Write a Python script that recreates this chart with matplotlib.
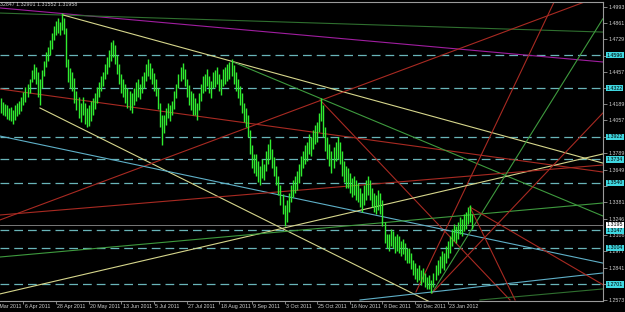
import matplotlib
matplotlib.use("Agg")
import matplotlib.pyplot as plt
import matplotlib.transforms as mtransforms
from matplotlib import font_manager
import numpy as np

# ---------------- data ----------------
highs = [
    1.424,1.421,1.419,1.418,1.416, 1.417,1.414,1.418,1.420,1.422,
    1.425,1.429,1.433,1.436,1.440, 1.447,1.452,1.450,1.446,1.440,
    1.447,1.455,1.462,1.466,1.472, 1.478,1.484,1.488,1.490,1.487,
    1.494,1.490,1.482,1.456,1.449, 1.446,1.441,1.430,1.425,1.420,
    1.425,1.420,1.416,1.418,1.422, 1.424,1.428,1.433,1.437,1.442,
    1.446,1.452,1.458,1.464,1.470, 1.472,1.468,1.460,1.452,1.444,
    1.440,1.436,1.432,1.430,1.428, 1.432,1.437,1.440,1.436,1.442,
    1.446,1.452,1.456,1.453,1.449, 1.445,1.440,1.432,1.420,1.410,
    1.410,1.416,1.420,1.418,1.422, 1.430,1.436,1.444,1.450,1.453,
    1.448,1.440,1.435,1.430,1.428, 1.424,1.420,1.428,1.436,1.442,
    1.444,1.448,1.442,1.438,1.446, 1.447,1.450,1.444,1.440,1.448,
    1.450,1.452,1.454,1.456,1.451, 1.446,1.440,1.434,1.428,1.420,
    1.416,1.410,1.398,1.385,1.378, 1.378,1.372,1.368,1.374,1.370,
    1.380,1.386,1.390,1.382,1.375, 1.368,1.360,1.352,1.345,1.336,
    1.340,1.346,1.352,1.356,1.360, 1.364,1.370,1.376,1.380,1.385,
    1.388,1.394,1.392,1.398,1.402, 1.404,1.412,1.424,1.418,1.400,
    1.392,1.386,1.380,1.384,1.388, 1.392,1.388,1.380,1.372,1.368,
    1.366,1.362,1.358,1.360,1.356, 1.354,1.350,1.346,1.352,1.356,
    1.360,1.356,1.350,1.346,1.344, 1.348,1.346,1.340,1.322,1.312,
    1.312,1.316,1.314,1.310,1.312, 1.310,1.306,1.308,1.304,1.300,
    1.300,1.296,1.290,1.288,1.284, 1.286,1.282,1.284,1.280,1.276,
    1.278,1.274,1.280,1.286,1.290, 1.294,1.298,1.296,1.302,1.306,
    1.310,1.316,1.320,1.318,1.322, 1.326,1.324,1.328,1.330,1.334,
    1.336,1.328,
]
lows = [
    1.412,1.410,1.409,1.407,1.406, 1.405,1.403,1.406,1.409,1.411,
    1.413,1.418,1.421,1.425,1.428, 1.437,1.440,1.436,1.425,1.418,
    1.432,1.442,1.450,1.455,1.460, 1.465,1.472,1.476,1.478,1.476,
    1.480,1.477,1.450,1.437,1.432, 1.430,1.420,1.414,1.408,1.404,
    1.410,1.403,1.400,1.401,1.405, 1.410,1.415,1.420,1.425,1.430,
    1.434,1.440,1.444,1.450,1.455, 1.458,1.452,1.444,1.436,1.428,
    1.425,1.420,1.416,1.414,1.412, 1.418,1.422,1.425,1.423,1.428,
    1.432,1.438,1.442,1.440,1.436, 1.430,1.426,1.415,1.400,1.385,
    1.395,1.402,1.408,1.405,1.410, 1.415,1.424,1.432,1.438,1.440,
    1.434,1.425,1.418,1.414,1.410, 1.410,1.406,1.414,1.422,1.428,
    1.430,1.434,1.428,1.424,1.432, 1.433,1.436,1.430,1.427,1.434,
    1.436,1.438,1.440,1.442,1.436, 1.430,1.424,1.418,1.412,1.404,
    1.400,1.392,1.378,1.366,1.362, 1.360,1.355,1.352,1.358,1.356,
    1.364,1.370,1.374,1.366,1.360, 1.352,1.344,1.336,1.328,1.318,
    1.322,1.330,1.338,1.342,1.346, 1.348,1.354,1.360,1.366,1.370,
    1.372,1.378,1.376,1.382,1.386, 1.388,1.396,1.405,1.392,1.380,
    1.374,1.368,1.362,1.366,1.372, 1.374,1.370,1.360,1.355,1.350,
    1.350,1.346,1.342,1.344,1.340, 1.338,1.334,1.330,1.336,1.340,
    1.344,1.340,1.334,1.330,1.328, 1.332,1.328,1.318,1.304,1.300,
    1.298,1.302,1.300,1.296,1.298, 1.296,1.294,1.295,1.290,1.288,
    1.288,1.283,1.278,1.275,1.272, 1.274,1.270,1.272,1.268,1.266,
    1.266,1.263,1.268,1.274,1.278, 1.280,1.284,1.282,1.288,1.292,
    1.296,1.302,1.306,1.304,1.308, 1.312,1.310,1.314,1.316,1.320,
    1.322,1.316,
]

# horizontal levels (dashed) and their labels
levels = [1.4596, 1.4322, 1.3922, 1.3734, 1.3540, 1.3147, 1.3004, 1.2701]
bid = 1.3195

# price axis tick labels
price_ticks = [1.4993, 1.4861, 1.4729, 1.4589, 1.4457, 1.4320, 1.4189, 1.4057,
               1.3920, 1.3789, 1.3649, 1.3517, 1.3381, 1.3246, 1.3108, 1.2977,
               1.2841, 1.2709, 1.2573]

# x tick labels (every 16 bars)
date_labels = ["15 Mar 2011", "6 Apr 2011", "28 Apr 2011", "20 May 2011", "13 Jun 2011",
               "5 Jul 2011", "27 Jul 2011", "18 Aug 2011", "9 Sep 2011", "3 Oct 2011",
               "25 Oct 2011", "16 Nov 2011", "8 Dec 2011", "30 Dec 2011", "23 Jan 2012"]

# trend lines: (bar0, price0, bar1, price1, colour)
trend_lines = [
    (-0.5, 1.4985, 295.0, 1.4539, "#a01ea0"),   # purple
    (-0.5, 1.4943, 295.0, 1.4786, "#2f6f2f"),   # dark green
    (30.4, 1.4927, 295.0, 1.3704, "#d6d68c"),   # khaki from top
    (19.1, 1.4159, 220.0, 1.2475, "#d6d68c"),   # khaki down
    (-0.5, 1.4316, 295.0, 1.3630, "#a82a22"),   # red falling
    (-0.5, 1.3234, 288.7, 1.5051, "#a82a22"),   # red rising
    (113.7, 1.4539, 295.0, 1.3267, "#3e9a3e"),  # green falling
    (156.4, 1.4225, 249.5, 1.2573, "#a82a22"),  # red from Oct peak
    (271.6, 1.5051, 203.4, 1.2639, "#a82a22"),  # red steep
    (-0.5, 1.3927, 295.0, 1.2878, "#5fb0c8"),   # cyan
    (-0.5, 1.2623, 295.0, 1.3779, "#d6d68c"),   # khaki rising
    (-0.5, 1.3275, 295.0, 1.3688, "#a82a22"),   # red slow rising
    (-0.5, 1.2928, 295.0, 1.3374, "#3e9a3e"),   # green rising
    (211.3, 1.2631, 295.0, 1.4895, "#3e9a3e"),  # green steep from low
    (211.3, 1.2631, 295.0, 1.4117, "#a82a22"),  # red steep from low
    (176.0, 1.2573, 295.0, 1.2796, "#5fb0c8"),  # cyan bottom
    (234.8, 1.2573, 295.0, 1.2664, "#2f6f2f"),  # dark green bottom
    (229.9, 1.3340, 252.0, 1.2573, "#a82a22"),  # red from last peak
    (229.9, 1.3340, 295.0, 1.2700, "#a82a22"),
]

# ---------------- fonts ----------------
installed = {f.name for f in font_manager.fontManager.ttflist}
if "Liberation Sans Narrow" in installed:
    FONT, FS = "Liberation Sans Narrow", 4.5
else:
    FONT, FS = "Liberation Sans", 3.8
TXT = "#d0d0d0"

# ---------------- figure ----------------
W, H = 625, 312
fig = plt.figure(figsize=(W / 100, H / 100), dpi=100, facecolor="black")
ax = fig.add_axes([0, 11 / H, 603 / W, 299 / H], facecolor="black")

n = len(highs)
idx = np.arange(n)

ax.set_xlim(-0.49, 295.1)
ax.set_ylim(1.25646, 1.50343)

# horizontal dashed levels
for lv in levels:
    ax.axhline(lv, color="#69b5b9", lw=0.9, ls=(0, (7, 4)), zorder=1)
ax.axhline(bid, color="#8c8c8c", lw=0.6, zorder=1)

# trend lines
for x0, p0, x1, p1, c in trend_lines:
    ax.plot([x0, x1], [p0, p1], color=c, lw=0.8, zorder=2)

# bars
ax.vlines(idx, lows, highs, color="#30ec30", lw=1.0, zorder=3)

# axes styling
ax.spines["left"].set_visible(False)
for s in ["top", "right", "bottom"]:
    ax.spines[s].set_color("#9a9a9a")
    ax.spines[s].set_linewidth(0.8)

ax.yaxis.tick_right()
ax.set_yticks(price_ticks)
hidden = [any(abs(t - lv) < 0.0026 for lv in levels) for t in price_ticks]
ax.set_yticklabels(["" if h else f"{v:.4f}" for v, h in zip(price_ticks, hidden)],
                   fontfamily=FONT)
ax.tick_params(axis="y", colors="#9a9a9a", labelcolor=TXT, length=3,
               width=0.6, labelsize=FS, pad=1)

tick_bars = [-5 + 16 * k for k in range(len(date_labels))]
ax.set_xticks(tick_bars[1:])
ax.set_xticklabels([""] * (len(tick_bars) - 1))
ax.tick_params(axis="x", colors="#9a9a9a", length=2.5, width=0.6)
xtr = mtransforms.blended_transform_factory(ax.transData, ax.transAxes)
for b, lab in zip(tick_bars, date_labels):
    ax.text(b + 0.6, -0.011, lab, transform=xtr, fontsize=FS, fontfamily=FONT,
            color=TXT, ha="left", va="top", clip_on=False)

# level labels on price axis
tr = mtransforms.blended_transform_factory(ax.transAxes, ax.transData)
for lv in levels:
    ax.text(1.006, lv, f"{lv:.4f}", transform=tr, fontsize=FS, fontfamily=FONT,
            color="black", va="center", ha="left", clip_on=False, zorder=10,
            bbox=dict(boxstyle="square,pad=0.12", fc="#3fd7e0", ec="none"))
ax.text(1.006, bid, f"{bid:.4f}", transform=tr, fontsize=FS, fontfamily=FONT,
        color="black", va="center", ha="left", clip_on=False, zorder=10,
        bbox=dict(boxstyle="square,pad=0.12", fc="white", ec="none"))

fig.text(0, 1 - 4 / H, "32847 1.32901 1.31552 1.31958", fontsize=FS,
         fontfamily=FONT, color=TXT, va="center", ha="left")

fig.savefig("out.png", dpi=100, facecolor="black")
